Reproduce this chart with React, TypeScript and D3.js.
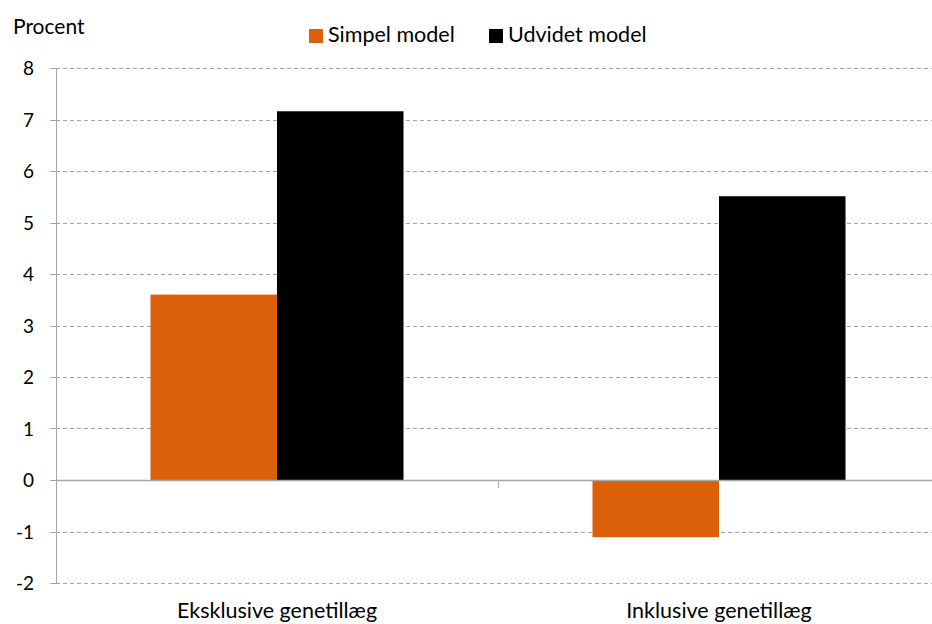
import { useEffect, useRef } from "react";
import * as d3 from "d3";

const categories = ["Eksklusive genetillæg", "Inklusive genetillæg"];
const seriesNames = ["Simpel model", "Udvidet model"];
const seriesColors = ["#dc6009", "#000000"];
const simpel = [3.6, -1.11];
const udvidet = [7.16, 5.51];
const yTicks = [-2, -1, 0, 1, 2, 3, 4, 5, 6, 7, 8];

const App = () => {
  const svgRef = useRef<SVGSVGElement>(null);

  useEffect(() => {
    const svg = d3.select(svgRef.current);
    svg.selectAll("*").remove();
    const width = 932;
    const height = 624;
    const margin = { top: 68, right: -8, bottom: 41, left: 56 };
    const font = "Lato, 'Open Sans', sans-serif";

    const x = d3
      .scaleBand()
      .domain(categories)
      .range([margin.left, width - margin.right]);
    const inner = d3
      .scaleBand()
      .domain(seriesNames)
      .range([0, x.bandwidth()])
      .paddingOuter(0.747);
    const y = d3
      .scaleLinear()
      .domain([-2, 8])
      .range([height - margin.bottom, margin.top]);

    // gridlines
    svg
      .append("g")
      .selectAll("line")
      .data(yTicks.filter((t) => t !== 0))
      .enter()
      .append("line")
      .attr("x1", margin.left)
      .attr("x2", width)
      .attr("y1", (d) => Math.round(y(d)) + 0.5)
      .attr("y2", (d) => Math.round(y(d)) + 0.5)
      .attr("stroke", "#a6a6a6")
      .attr("stroke-dasharray", "4,3");

    // y axis line + ticks
    svg
      .append("line")
      .attr("x1", margin.left + 0.5)
      .attr("x2", margin.left + 0.5)
      .attr("y1", y(8))
      .attr("y2", y(-2))
      .attr("stroke", "#a6a6a6");
    svg
      .append("g")
      .selectAll("line")
      .data(yTicks)
      .enter()
      .append("line")
      .attr("x1", margin.left - 6)
      .attr("x2", margin.left)
      .attr("y1", (d) => Math.round(y(d)) + 0.5)
      .attr("y2", (d) => Math.round(y(d)) + 0.5)
      .attr("stroke", "#a6a6a6");
    svg
      .append("g")
      .selectAll("text")
      .data(yTicks)
      .enter()
      .append("text")
      .attr("x", 34)
      .attr("y", (d) => y(d) + 7)
      .attr("text-anchor", "end")
      .attr("font-family", font)
      .attr("font-size", 19)
      .attr("fill", "#000")
      .text((d) => String(d));

    // bars
    const series = [simpel, udvidet];
    series.forEach((vals, si) => {
      svg
        .append("g")
        .selectAll("rect")
        .data(vals)
        .enter()
        .append("rect")
        .attr("x", (d, i) => (x(categories[i]) ?? 0) + (inner(seriesNames[si]) ?? 0))
        .attr("width", inner.bandwidth())
        .attr("y", (d) => y(Math.max(0, d)))
        .attr("height", (d) => Math.abs(y(d) - y(0)))
        .attr("fill", seriesColors[si]);
    });

    // zero line
    svg
      .append("line")
      .attr("x1", margin.left)
      .attr("x2", width)
      .attr("y1", Math.round(y(0)) + 0.5)
      .attr("y2", Math.round(y(0)) + 0.5)
      .attr("stroke", "#a6a6a6")
      .attr("stroke-width", 1.5);
    // category separator tick
    const sep = Math.round(x(categories[1]) ?? 0) + 0.5;
    svg
      .append("line")
      .attr("x1", sep)
      .attr("x2", sep)
      .attr("y1", y(0))
      .attr("y2", y(0) + 8)
      .attr("stroke", "#a6a6a6");

    // category labels
    svg
      .append("g")
      .selectAll("text")
      .data(categories)
      .enter()
      .append("text")
      .attr("x", (d) => (x(d) ?? 0) + x.bandwidth() / 2)
      .attr("y", 618)
      .attr("text-anchor", "middle")
      .attr("font-family", font)
      .attr("font-size", 21.5)
      .text((d) => d);

    // y title
    svg
      .append("text")
      .attr("x", 13)
      .attr("y", 34)
      .attr("font-family", font)
      .attr("font-size", 21)
      .text("Procent");

    // legend
    const legendX = [309, 489];
    seriesNames.forEach((name, i) => {
      const g = svg.append("g").attr("transform", `translate(${legendX[i]},28)`);
      g.append("rect")
        .attr("width", 14)
        .attr("height", 14)
        .attr("y", 1)
        .attr("fill", seriesColors[i]);
      g.append("text")
        .attr("x", 19)
        .attr("y", 14)
        .attr("font-family", font)
        .attr("font-size", 21.5)
        .text(name);
    });
  }, []);

  return (
    <div style={{ position: "absolute", left: 0, top: 0, width: 932, height: 624, overflow: "hidden" }}>
      <svg ref={svgRef} width={932} height={624} style={{ display: "block" }}></svg>
    </div>
  );
};

export default App;
